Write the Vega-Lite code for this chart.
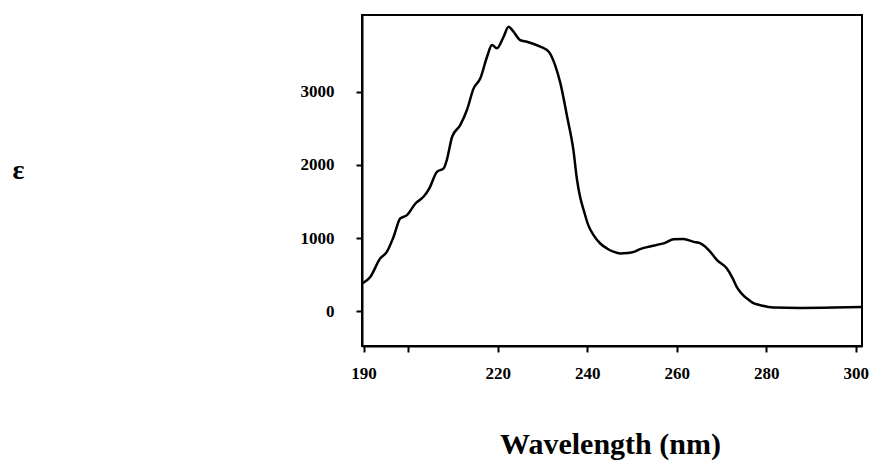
{
  "$schema": "https://vega.github.io/schema/vega-lite/v6.json",
  "width": 500,
  "height": 331,
  "autosize": {"type": "none"},
  "padding": {"left": 362, "top": 15, "right": 12, "bottom": 125},
  "background": "white",
  "config": {
    "view": {"stroke": "black", "strokeWidth": 2},
    "axis": {
      "labelFont": "Liberation Serif",
      "labelFontWeight": "bold",
      "labelFontSize": 17,
      "labelColor": "black",
      "domainColor": "black",
      "domainWidth": 2,
      "tickColor": "black",
      "tickWidth": 2,
      "tickSize": 6,
      "grid": false,
      "titleFont": "Liberation Serif",
      "titleFontWeight": "bold",
      "titleColor": "black"
    }
  },
  "data": {
    "values": [
      {"wl": 189.7, "eps": 379},
      {"wl": 191.5, "eps": 469},
      {"wl": 193.7, "eps": 721},
      {"wl": 195.2, "eps": 811},
      {"wl": 196.7, "eps": 1016},
      {"wl": 198.2, "eps": 1268},
      {"wl": 199.7, "eps": 1313},
      {"wl": 201.6, "eps": 1473},
      {"wl": 203.4, "eps": 1564},
      {"wl": 204.7, "eps": 1680},
      {"wl": 206.4, "eps": 1906},
      {"wl": 207.9, "eps": 1952},
      {"wl": 208.6, "eps": 2066},
      {"wl": 209.8, "eps": 2385},
      {"wl": 211.6, "eps": 2544},
      {"wl": 213.1, "eps": 2750},
      {"wl": 214.6, "eps": 3046},
      {"wl": 216.1, "eps": 3183},
      {"wl": 217.6, "eps": 3479},
      {"wl": 218.7, "eps": 3639},
      {"wl": 219.8, "eps": 3593},
      {"wl": 221.3, "eps": 3752},
      {"wl": 222.4, "eps": 3889},
      {"wl": 223.5, "eps": 3821},
      {"wl": 225.0, "eps": 3707},
      {"wl": 226.5, "eps": 3684},
      {"wl": 229.5, "eps": 3616},
      {"wl": 231.4, "eps": 3547},
      {"wl": 232.8, "eps": 3365},
      {"wl": 234.0, "eps": 3115},
      {"wl": 235.5, "eps": 2658},
      {"wl": 236.9, "eps": 2202},
      {"wl": 237.7, "eps": 1800},
      {"wl": 238.4, "eps": 1560},
      {"wl": 239.2, "eps": 1382},
      {"wl": 240.2, "eps": 1180},
      {"wl": 241.4, "eps": 1040},
      {"wl": 242.9, "eps": 926},
      {"wl": 244.4, "eps": 858},
      {"wl": 245.8, "eps": 815},
      {"wl": 247.4, "eps": 789},
      {"wl": 249.0, "eps": 795},
      {"wl": 250.4, "eps": 811},
      {"wl": 251.8, "eps": 850},
      {"wl": 254.0, "eps": 885},
      {"wl": 256.3, "eps": 917},
      {"wl": 257.4, "eps": 935},
      {"wl": 259.3, "eps": 985},
      {"wl": 261.5, "eps": 989},
      {"wl": 263.8, "eps": 948},
      {"wl": 265.3, "eps": 926},
      {"wl": 267.5, "eps": 811},
      {"wl": 269.0, "eps": 698},
      {"wl": 271.2, "eps": 584},
      {"wl": 272.5, "eps": 450},
      {"wl": 273.4, "eps": 332},
      {"wl": 274.5, "eps": 240},
      {"wl": 275.7, "eps": 173},
      {"wl": 277.0, "eps": 115},
      {"wl": 278.7, "eps": 82},
      {"wl": 281.6, "eps": 50},
      {"wl": 287.6, "eps": 45},
      {"wl": 295.0, "eps": 50},
      {"wl": 301.4, "eps": 59}
    ]
  },
  "mark": {"type": "line", "color": "black", "strokeWidth": 2.5, "interpolate": "monotone", "clip": true},
  "encoding": {
    "x": {
      "field": "wl",
      "type": "quantitative",
      "scale": {"domain": [189.65, 301.4], "nice": false, "zero": false},
      "axis": {
        "values": [190, 200, 220, 240, 260, 280, 300],
        "labelExpr": "datum.value == 200 ? '' : datum.label",
        "labelPadding": 13,
        "labelFlush": false,
        "title": "Wavelength (nm)",
        "titleFontSize": 30,
        "titleX": 248,
        "titleY": 98,
        "titleAlign": "center",
        "titleBaseline": "middle"
      }
    },
    "y": {
      "field": "eps",
      "type": "quantitative",
      "scale": {"domain": [-475, 4049], "nice": false, "zero": false},
      "axis": {
        "values": [0, 1000, 2000, 3000],
        "format": "d",
        "labelPadding": 22,
        "title": "ε",
        "titleAngle": 0,
        "titleFontSize": 28,
        "titleX": -344,
        "titleY": 155,
        "titleAlign": "center",
        "titleBaseline": "middle"
      }
    }
  }
}
